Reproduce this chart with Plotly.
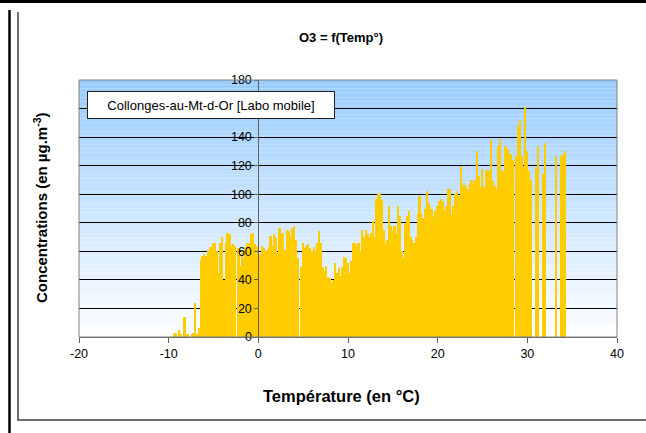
import plotly.graph_objects as go

# Temperature bins (°C) and O3 concentrations (µg/m3)
temperatures = [
    -9.6, -9.4, -9.2, -9.0, -8.8, -8.6, -8.4, -8.2, -8.0, -7.8,
    -7.6, -7.4, -7.2, -7.0, -6.8, -6.6, -6.4, -6.2, -6.0, -5.8,
    -5.6, -5.4, -5.2, -5.0, -4.8, -4.6, -4.4, -4.2, -4.0, -3.8,
    -3.6, -3.4, -3.2, -3.0, -2.8, -2.6, -2.4, -2.2, -2.0, -1.8,
    -1.6, -1.4, -1.2, -1.0, -0.8, -0.6, -0.4, -0.2, 0.0, 0.2,
    0.4, 0.6, 0.8, 1.0, 1.2, 1.4, 1.6, 1.8, 2.0, 2.2,
    2.4, 2.6, 2.8, 3.0, 3.2, 3.4, 3.6, 3.8, 4.0, 4.2,
    4.4, 4.6, 4.8, 5.0, 5.2, 5.4, 5.6, 5.8, 6.0, 6.2,
    6.4, 6.6, 6.8, 7.0, 7.2, 7.4, 7.6, 7.8, 8.0, 8.2,
    8.4, 8.6, 8.8, 9.0, 9.2, 9.4, 9.6, 9.8, 10.0, 10.2,
    10.4, 10.6, 10.8, 11.0, 11.2, 11.4, 11.6, 11.8, 12.0, 12.2,
    12.4, 12.6, 12.8, 13.0, 13.2, 13.4, 13.6, 13.8, 14.0, 14.2,
    14.4, 14.6, 14.8, 15.0, 15.2, 15.4, 15.6, 15.8, 16.0, 16.2,
    16.4, 16.6, 16.8, 17.0, 17.2, 17.4, 17.6, 17.8, 18.0, 18.2,
    18.4, 18.6, 18.8, 19.0, 19.2, 19.4, 19.6, 19.8, 20.0, 20.2,
    20.4, 20.6, 20.8, 21.0, 21.2, 21.4, 21.6, 21.8, 22.0, 22.2,
    22.4, 22.6, 22.8, 23.0, 23.2, 23.4, 23.6, 23.8, 24.0, 24.2,
    24.4, 24.6, 24.8, 25.0, 25.2, 25.4, 25.6, 25.8, 26.0, 26.2,
    26.4, 26.6, 26.8, 27.0, 27.2, 27.4, 27.6, 27.8, 28.0, 28.2,
    28.4, 28.6, 28.8, 29.0, 29.2, 29.4, 29.6, 29.8, 30.0, 30.2,
    30.4, 30.6, 30.8, 31.0, 31.2, 31.4, 31.6, 31.8, 32.0, 32.2,
    32.4, 32.6, 32.8, 33.0, 33.2, 33.4, 33.6, 33.8, 34.0, 34.2,
    34.4,
]
o3 = [
    0, 2, 3, 0, 5, 2, 0, 14, 2, 2,
    0, 2, 3, 24, 2, 6, 54, 57, 58, 57,
    61, 63, 63, 66, 66, 60, 45, 66, 70, 40,
    66, 73, 72, 64, 65, 64, 0, 62, 50, 60,
    55, 63, 66, 66, 72, 73, 65, 64, 63, 58,
    64, 62, 60, 61, 63, 71, 64, 72, 70, 59,
    76, 72, 73, 61, 75, 74, 70, 76, 78, 68,
    55, 0, 49, 66, 62, 64, 65, 62, 60, 63,
    60, 66, 74, 66, 49, 46, 50, 42, 41, 38,
    40, 52, 45, 48, 43, 49, 56, 55, 52, 45,
    53, 66, 66, 64, 66, 60, 75, 70, 75, 72,
    70, 73, 81, 70, 97, 100, 101, 96, 75, 66,
    68, 92, 78, 74, 78, 72, 92, 85, 60, 55,
    80, 85, 88, 70, 68, 66, 70, 87, 99, 86,
    83, 90, 102, 94, 91, 90, 84, 88, 92, 95,
    97, 95, 88, 92, 104, 104, 86, 92, 100, 102,
    99, 120, 106, 108, 106, 104, 107, 110, 108, 110,
    130, 113, 105, 118, 105, 116, 117, 116, 138, 109,
    106, 104, 134, 139, 116, 116, 134, 132, 128, 128,
    124, 0, 127, 148, 152, 127, 120, 161, 130, 116,
    110, 0, 0, 119, 134, 0, 0, 114, 136, 0,
    0, 0, 0, 0, 127, 0, 0, 127, 128, 130,
    0,
]
x_ticks = [-20, -10, 0, 10, 20, 30, 40]
x_labels = ["-20", "-10", "0", "10", "20", "30", "40"]
y_ticks = [0, 20, 40, 60, 80, 100, 120, 140, 160, 180]

FONT = "Liberation Sans, Arial, sans-serif"
W, H = 646, 433
L, R, T, B = 79, 617, 80, 337   # plot area in pixels


def px(x):   # pixel -> paper x
    return (x - L) / (R - L)


def py(y):   # pixel -> paper y
    return (B - y) / (B - T)


fig = go.Figure()
fig.add_trace(go.Bar(x=temperatures, y=o3, width=0.2,
                     marker=dict(color="#FFCC00", line=dict(width=0)),
                     hoverinfo="x+y", showlegend=False))

shapes = []
# vertical gradient background, white at the bottom to light blue at the top
n = 60
for i in range(n):
    f = (i + 0.5) / n
    r = round(255 - (255 - 153) * f)
    g = round(255 - (255 - 204) * f)
    shapes.append(dict(type="rect", xref="paper", yref="paper", x0=0, x1=1,
                       y0=i / n, y1=(i + 1) / n, fillcolor=f"rgb({r},{g},255)",
                       line=dict(width=0), layer="below"))
# plot area border
shapes.append(dict(type="rect", xref="paper", yref="paper", x0=0, x1=1, y0=0, y1=1,
                   line=dict(color="#808080", width=1), layer="above"))
# chart frame and page rules
shapes.append(dict(type="path", xref="paper", yref="paper",
                   path=f"M {px(18)},{py(12)} L {px(18)},{py(420)} L {px(W)},{py(420)}",
                   line=dict(color="#404040", width=1.5)))
shapes.append(dict(type="line", xref="paper", yref="paper",
                   x0=px(9.5), x1=px(9.5), y0=py(10), y1=py(H),
                   line=dict(color="black", width=2.5)))
shapes.append(dict(type="rect", xref="paper", yref="paper",
                   x0=px(0), x1=px(W), y0=py(0), y1=py(3),
                   fillcolor="black", line=dict(width=0), layer="above"))

annotations = [
    dict(text="<b>O3 = f(Temp°)</b>", xref="paper", yref="paper",
         x=px(341), y=py(38), xanchor="center", yanchor="middle", showarrow=False,
         font=dict(size=13, color="black")),
    dict(text="<b>Température (en °C)</b>", xref="paper", yref="paper",
         x=px(341), y=py(396), xanchor="center", yanchor="middle", showarrow=False,
         font=dict(size=16.5, color="black")),
    dict(text="<b>Concentrations (en µg.m<sup>-3</sup>)</b>", xref="paper", yref="paper",
         x=px(40), y=py(208), xanchor="center", yanchor="middle", showarrow=False,
         textangle=-90, font=dict(size=15, color="black")),
    dict(text="Collonges-au-Mt-d-Or [Labo mobile]", xref="paper", yref="paper",
         x=px(211), y=py(105), xanchor="center", yanchor="middle", showarrow=False,
         width=244, height=24, bgcolor="white", bordercolor="#202020",
         borderwidth=1, borderpad=1, font=dict(size=13, color="black")),
]

fig.update_layout(
    width=W, height=H,
    margin=dict(l=L, r=W - R, t=T, b=H - B, pad=0),
    paper_bgcolor="white", plot_bgcolor="rgba(0,0,0,0)",
    font=dict(family=FONT, size=12.5, color="black"),
    bargap=0, shapes=shapes, annotations=annotations, showlegend=False,
    xaxis=dict(range=[-20, 40], tickvals=x_ticks, ticktext=x_labels,
               showgrid=False, zeroline=False,
               showline=True, linecolor="#606060", linewidth=1,
               ticks="outside", ticklen=5, tickcolor="#606060"),
    yaxis=dict(range=[0, 180], tickvals=y_ticks, anchor="free", position=1 / 3,
               showgrid=True, gridcolor="black", gridwidth=1, zeroline=False,
               showline=True, linecolor="#606060", linewidth=1,
               ticks="outside", ticklen=4, tickcolor="#606060"),
)

# drop the default 8px page margin so the figure fills the window
fig.write_html("out.html", config={"displayModeBar": False},
               post_script="document.body.style.margin='0';document.body.style.overflow='hidden';")
